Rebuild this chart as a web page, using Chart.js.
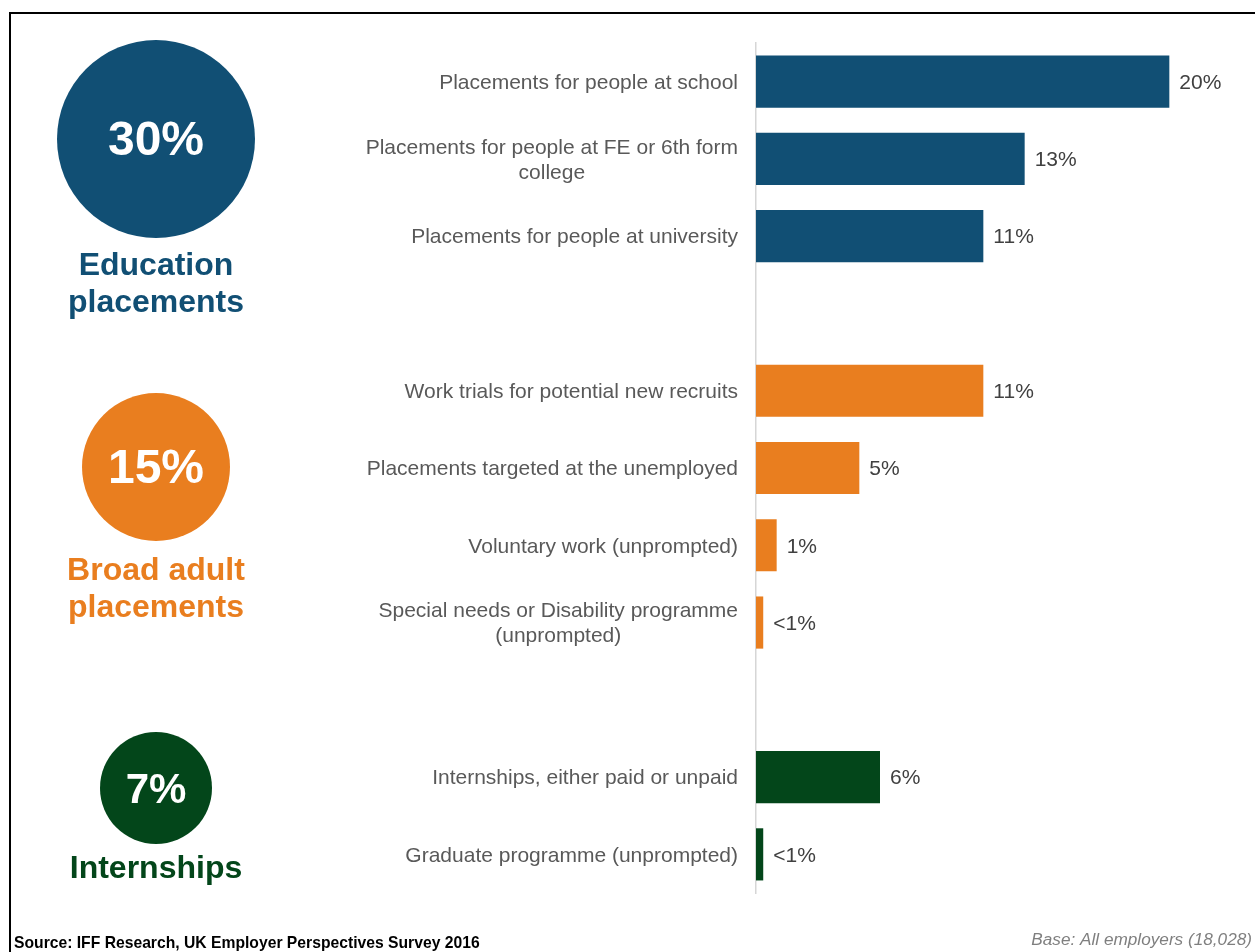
<!DOCTYPE html>
<html>
<head>
<meta charset="utf-8">
<title>Work placements offered by employers</title>
<script src="https://cdn.jsdelivr.net/npm/chart.js@4.4.1/dist/chart.umd.min.js"></script>
<style>
  html, body { margin: 0; padding: 0; background: #fff; }
  #wrap { position: relative; width: 1255px; height: 952px; }
</style>
</head>
<body>
<div id="wrap"><canvas id="placements" width="1255" height="952"></canvas></div>
<script>
// one row per bar; empty rows separate the three groups
const categories = [
  'Placements for people at school',
  ['Placements for people at FE or 6th form', 'college'],
  'Placements for people at university',
  '',
  'Work trials for potential new recruits',
  'Placements targeted at the unemployed',
  'Voluntary work (unprompted)',
  ['Special needs or Disability programme', '(unprompted)'],
  '',
  'Internships, either paid or unpaid',
  'Graduate programme (unprompted)'
];
const values = [20, 13, 11, null, 11, 5, 1, 0.35, null, 6, 0.35];
const valueLabels = ['20%', '13%', '11%', '', '11%', '5%', '1%', '<1%', '', '6%', '<1%'];
const groupOf = [0, 0, 0, null, 1, 1, 1, 1, null, 2, 2];

const groupNames = [['Education', 'placements'], ['Broad adult', 'placements'], ['Internships']];
const groupTotals = ['30%', '15%', '7%'];
const groupColors = ['#114f74', '#e97e1f', '#03461a'];

// circle badges on the left
const badges = [
  { cy: 139, r: 99, size: 48, captionY: [266, 303] },
  { cy: 467, r: 74, size: 48, captionY: [571, 608] },
  { cy: 788, r: 56, size: 42, captionY: [869] }
];
const FONT = '"Liberation Sans", Arial, sans-serif';

const sidePanel = {
  id: 'sidePanel',
  afterDraw(chart) {
    const ctx = chart.ctx;
    const xs = chart.scales.x;
    const ys = chart.scales.y;
    ctx.save();

    // category labels, multi-line ones centred under their widest line
    ctx.font = '21px ' + FONT;
    ctx.fillStyle = '#595959';
    ctx.textBaseline = 'middle';
    const right = ys.right - 18;
    categories.forEach((lab, i) => {
      const lines = Array.isArray(lab) ? lab : [lab];
      const yc = ys.getPixelForValue(i) + 1.5;
      const w = Math.max(...lines.map(l => ctx.measureText(l).width));
      lines.forEach((l, k) => {
        const ly = yc + (k - (lines.length - 1) / 2) * 25;
        if (lines.length === 1) {
          ctx.textAlign = 'right';
          ctx.fillText(l, right, ly);
        } else {
          ctx.textAlign = 'center';
          ctx.fillText(l, right - w / 2, ly);
        }
      });
    });

    // value labels at the bar ends
    ctx.fillStyle = '#404040';
    ctx.textAlign = 'left';
    values.forEach((v, i) => {
      if (v == null) return;
      ctx.fillText(valueLabels[i], xs.getPixelForValue(v) + 10, ys.getPixelForValue(i) + 1.5);
    });

    // group badges
    badges.forEach((b, g) => {
      ctx.fillStyle = groupColors[g];
      ctx.beginPath();
      ctx.arc(156, b.cy, b.r, 0, Math.PI * 2);
      ctx.fill();
      ctx.fillStyle = '#ffffff';
      ctx.textAlign = 'center';
      ctx.font = 'bold ' + b.size + 'px ' + FONT;
      ctx.fillText(groupTotals[g], 156, b.cy + 3);
      ctx.fillStyle = groupColors[g];
      ctx.font = 'bold 32px ' + FONT;
      groupNames[g].forEach((t, k) => ctx.fillText(t, 156, b.captionY[k]));
    });

    // footer
    ctx.textAlign = 'left';
    ctx.fillStyle = '#000000';
    ctx.font = 'bold 15.7px ' + FONT;
    ctx.fillText('Source: IFF Research, UK Employer Perspectives Survey 2016', 14, 944);
    ctx.textAlign = 'right';
    ctx.fillStyle = '#7f7f7f';
    ctx.font = 'italic 17.2px ' + FONT;
    ctx.fillText('Base: All employers (18,028)', 1252, 940);

    // frame
    ctx.strokeStyle = '#000000';
    ctx.lineWidth = 2;
    ctx.strokeRect(10, 13, 1260, 960);
    ctx.restore();
  }
};

new Chart(document.getElementById('placements'), {
  type: 'bar',
  data: {
    labels: categories,
    datasets: [{
      data: values,
      backgroundColor: groupOf.map(g => g == null ? 'transparent' : groupColors[g]),
      borderWidth: 0,
      barPercentage: 0.675,
      categoryPercentage: 1
    }]
  },
  options: {
    indexAxis: 'y',
    responsive: false,
    animation: false,
    layout: { padding: { top: 43, bottom: 59, left: 0, right: 3 } },
    plugins: {
      legend: { display: false },
      tooltip: { enabled: false }
    },
    scales: {
      x: { display: false, min: 0, max: 24 },
      y: {
        grid: { display: false },
        border: { color: '#d6d6d6', width: 1.5 },
        ticks: { display: false },
        afterFit(scale) { scale.width = 756; }
      }
    }
  },
  plugins: [sidePanel]
});
</script>
</body>
</html>
